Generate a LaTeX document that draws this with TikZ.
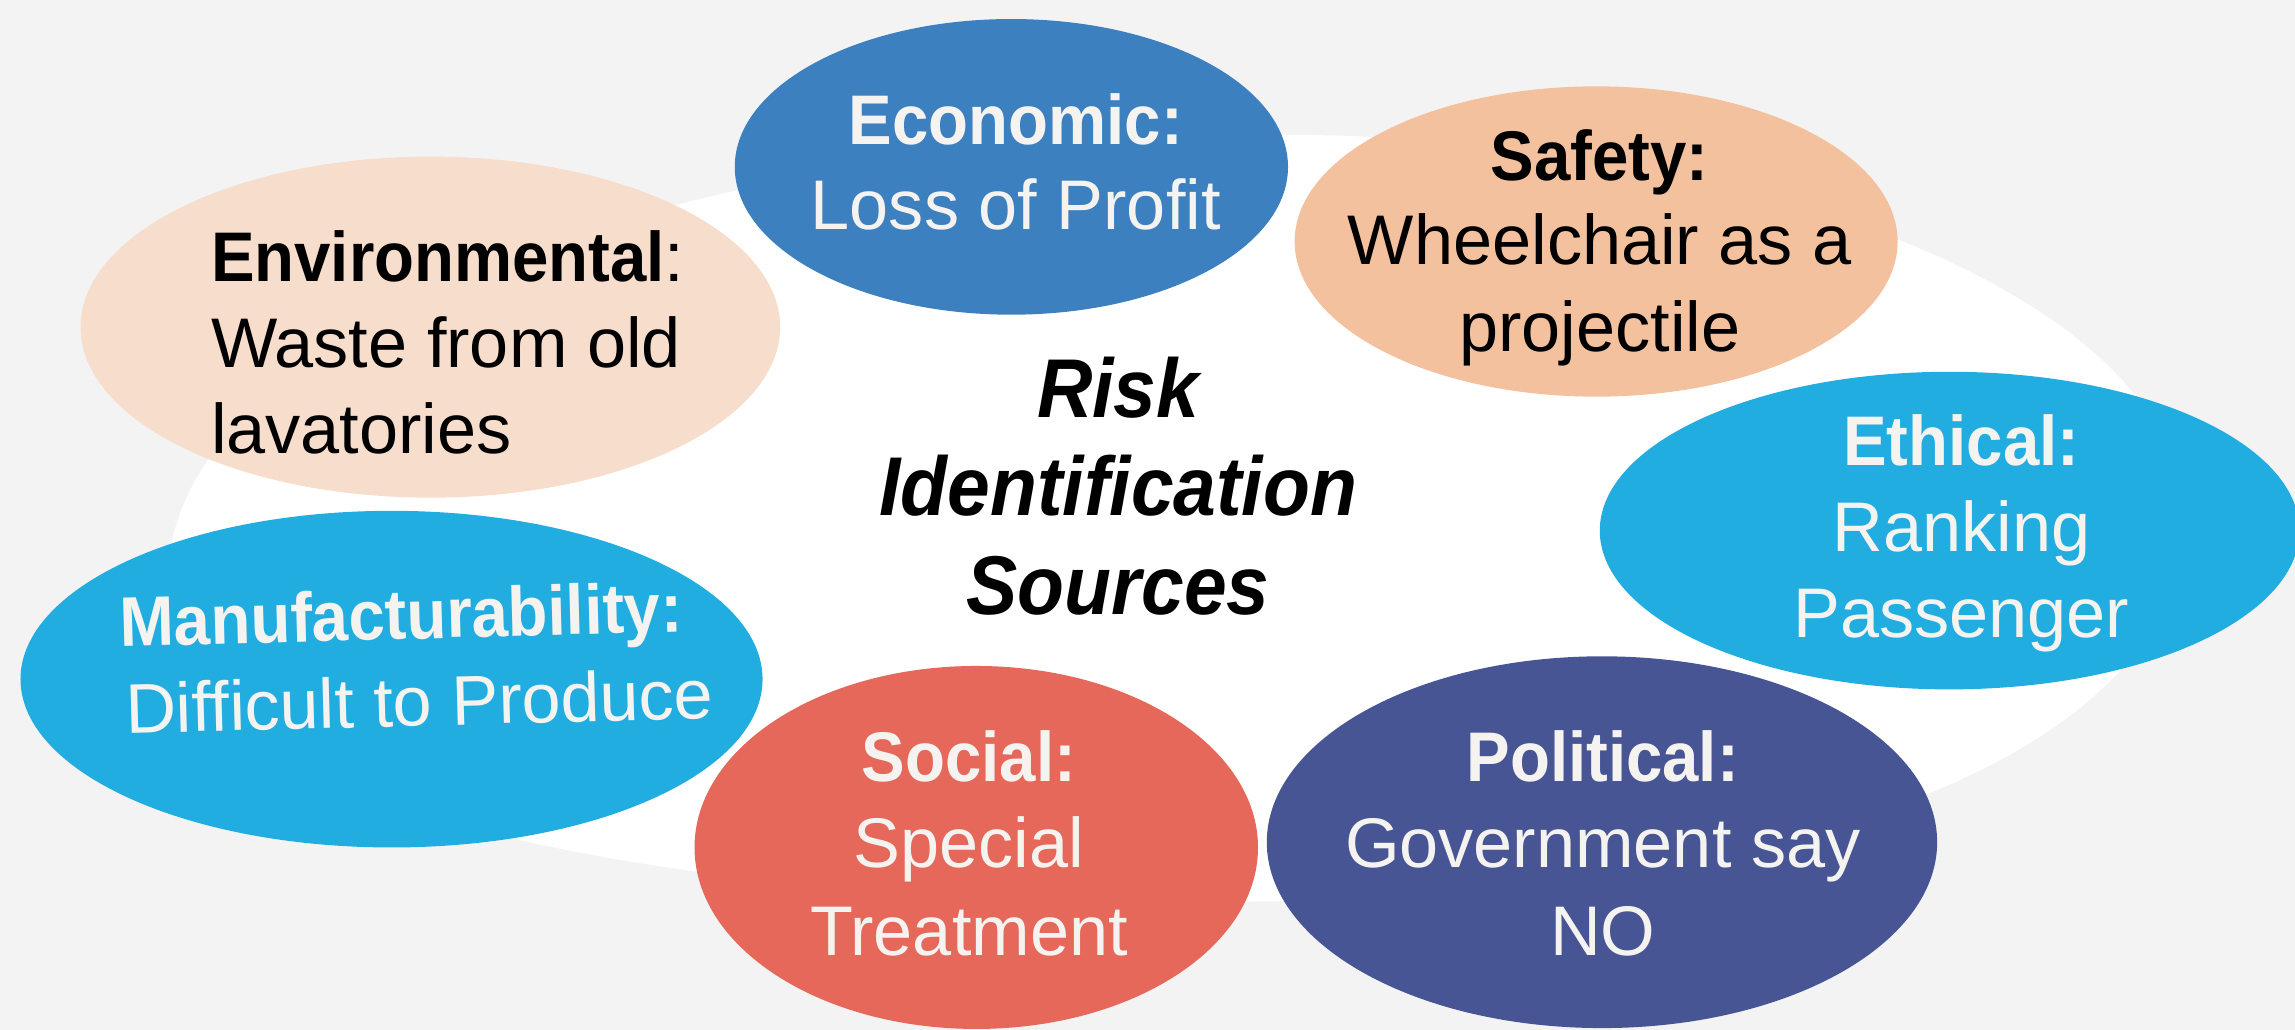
\documentclass[tikz,border=0pt]{standalone}
\usepackage{fontspec}
\setmainfont{Liberation Sans}[BoldFeatures={FakeStretch=0.93},BoldItalicFeatures={FakeStretch=0.92}]
\usetikzlibrary{shapes.geometric}
\definecolor{bgc}{HTML}{F3F3F3}
\definecolor{econc}{HTML}{3C80C0}
\definecolor{safec}{HTML}{F4C19E}
\definecolor{envc}{HTML}{F7DDCC}
\definecolor{skyc}{HTML}{22ADE1}
\definecolor{socc}{HTML}{E5685A}
\definecolor{polc}{HTML}{485594}
\definecolor{txtw}{HTML}{F5F3F0}
\begin{document}
\begin{tikzpicture}[x=1pt,y=-1pt,
  blob/.style={ellipse,inner sep=0pt,draw=none},
  tl/.style={anchor=base,inner sep=0pt,font=\fontsize{48}{58}\selectfont},
  tb/.style={anchor=base,inner sep=0pt,font=\fontsize{48}{58}\selectfont\bfseries},
  tt/.style={anchor=base,inner sep=0pt,font=\fontsize{57}{68}\selectfont\bfseries\itshape,text=black}]
\useasboundingbox (0,0) rectangle (1568,703.7);
\fill[bgc] (0,0) rectangle (1568,703.7);
% white backdrop
\coordinate (wl) at (115,395);
\coordinate (wt) at (870,92);
\coordinate (wr) at (1492,355);
\coordinate (wb) at (840,616);
\fill[white] (wl) .. controls (115,227.7) and (453,92) .. (wt)
  .. controls (1213.5,92) and (1492,209.7) .. (wr)
  .. controls (1492,511.6) and (1231.2,616) .. (wb)
  .. controls (368.75,616) and (115,538.65) .. (wl) -- cycle;
% ellipses
\node[blob,fill=econc,minimum width=378pt,minimum height=202pt] (econ) at (691,114) {};
\node[blob,fill=safec,minimum width=412pt,minimum height=212pt] (safe) at (1090.5,165) {};
\node[blob,fill=envc,minimum width=478pt,minimum height=233pt] (env) at (294,223.5) {};
\node[blob,fill=skyc,minimum width=478pt,minimum height=217pt] (eth) at (1332,362.5) {};
\node[blob,fill=skyc,minimum width=507pt,minimum height=230pt] (man) at (267.5,464) {};
\node[blob,fill=socc,minimum width=385pt,minimum height=248pt] (soc) at (667,579) {};
\node[blob,fill=polc,minimum width=458pt,minimum height=254pt] (pol) at (1094.5,575.4) {};
% Economic
\node[tb,text=txtw] (econ1) at (694,99) {Economic:};
\node[tl,text=txtw] (econ2) at (694,157) {Loss of Profit};
% Safety
\node[tb,text=black] (safe1) at (1093,123) {Safety:};
\node[tl,text=black] (safe2) at (1093,181) {Wheelchair as a};
\node[tl,text=black] (safe3) at (1093,240) {projectile};
% Environmental
\node[tl,text=black,anchor=base west] (env1) at (144,192.5) {\textbf{Environmental}:};
\node[tl,text=black,anchor=base west] (env2) at (144,251) {Waste from old};
\node[tl,text=black,anchor=base west] (env3) at (144,310) {lavatories};
% Ethical
\node[tb,text=txtw] (eth1) at (1340,318) {Ethical:};
\node[tl,text=txtw] (eth2) at (1340,377) {Ranking};
\node[tl,text=txtw] (eth3) at (1340,435.5) {Passenger};
% Manufacturability
\node[tb,text=txtw,rotate=1.5] (man1) at (274.5,436.7) {Manufacturability:};
\node[tl,text=txtw,rotate=1.5] (man2) at (287,496) {Difficult to Produce};
% Social
\node[tb,text=txtw] (soc1) at (662,534) {Social:};
\node[tl,text=txtw] (soc2) at (662,593) {Special};
\node[tl,text=txtw] (soc3) at (662,652.5) {Treatment};
% Political
\node[tb,text=txtw] (pol1) at (1095,534) {Political:};
\node[tl,text=txtw] (pol2) at (1095,593) {Government say};
\node[tl,text=txtw] (pol3) at (1095,652.5) {NO};
% centre title
\node[tt] (t1) at (764,285) {Risk};
\node[tt] (t2) at (764,352.5) {Identification};
\node[tt] (t3) at (764,419.5) {Sources};
\end{tikzpicture}
\end{document}
